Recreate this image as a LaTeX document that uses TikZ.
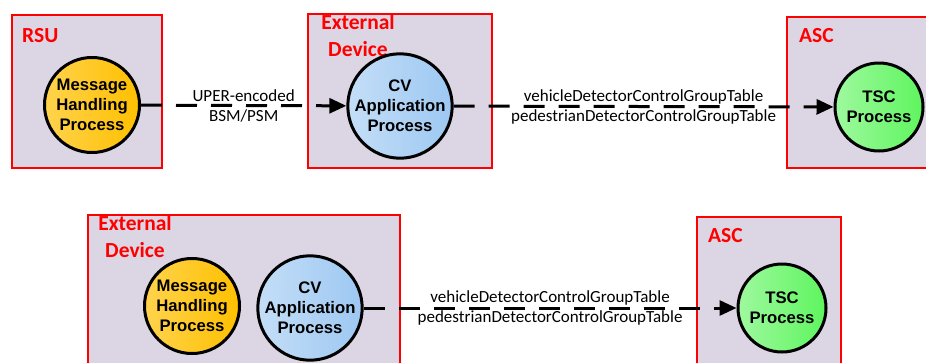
\documentclass[tikz,border=0pt]{standalone}
\usepackage{fontspec}
\setmainfont{Carlito}
\newfontfamily\procfont{Liberation Sans}
\usetikzlibrary{arrows.meta}

\definecolor{unitfill}{HTML}{DCD6E4}
\definecolor{msgyellow}{HTML}{FFC000}
\definecolor{cvblue}{HTML}{9DC8F2}
\definecolor{tscgreen}{HTML}{5EF55E}

\begin{document}
\begin{tikzpicture}[x=1pt, y=-1pt,
  unit/.style={draw=red, line width=1.8pt, fill=unitfill, anchor=north west, inner sep=0pt},
  unitname/.style={text=red, font=\fontsize{21.5}{27}\selectfont\bfseries, align=center, inner sep=0pt},
  proc/.style={circle, draw=black, line width=3pt, align=center, inner sep=0pt,
    font=\procfont\fontsize{16.7}{20}\selectfont\bfseries},
  msgproc/.style={proc, left color=msgyellow!70!white, right color=msgyellow, minimum size=95pt},
  cvproc/.style={proc, left color=cvblue!60!white, right color=cvblue, minimum size=94pt},
  tscproc/.style={proc, left color=tscgreen!60!white, right color=tscgreen, minimum size=88pt},
  flow/.style={line width=3pt, dash pattern=on 21pt off 14pt, -{Triangle[length=17pt,width=15pt]}},
  flowtext/.style={font=\fontsize{17}{20}\selectfont, align=center, inner sep=0pt}]
  \clip (0,0) rectangle (926,362);

  % top row: RSU -> external device -> ASC
  \node[unit, minimum width=150pt, minimum height=153pt] (rsu) at (11,14) {};
  \node[unit, minimum width=184pt, minimum height=154pt] (ext1) at (307,13) {};
  \node[unit, minimum width=150pt, minimum height=151pt] (asc1) at (786,16) {};

  \node[unitname, anchor=base west] (rsulbl) at (22,42) {RSU};
  \node[unitname, anchor=north] (ext1lbl) at (358,14) {External\\Device};
  \node[unitname, anchor=base west] (asc1lbl) at (799,42) {ASC};

  \node[msgproc] (mhp1) at (92,105) {Message\\Handling\\Process};
  \node[cvproc] (cv1) at (400,106) {CV\\Application\\Process};
  \node[tscproc] (tsc1) at (879,107) {TSC\\Process};

  \draw[flow] (mhp1) -- (cv1)
    node[flowtext, midway] (bsm) {UPER-encoded\\BSM/PSM};
  \draw[flow] (cv1) -- (tsc1)
    node[flowtext, midway] (tbl1) {vehicleDetectorControlGroupTable\\pedestrianDetectorControlGroupTable};

  % bottom row: external device with both processes -> ASC
  \node[unit, minimum width=312pt, minimum height=160pt] (ext2) at (87,214) {};
  \node[unit, minimum width=144pt, minimum height=160pt] (asc2) at (696,216) {};

  \node[unitname, anchor=north] (ext2lbl) at (135,215) {External\\Device};
  \node[unitname, anchor=base west] (asc2lbl) at (708,242) {ASC};

  \node[msgproc] (mhp2) at (192,306) {Message\\Handling\\Process};
  \node[cvproc] (cv2) at (310,308) {CV\\Application\\Process};
  \node[tscproc] (tsc2) at (782,308) {TSC\\Process};

  \draw[flow] (cv2) -- (tsc2)
    node[flowtext, midway] (tbl2) {vehicleDetectorControlGroupTable\\pedestrianDetectorControlGroupTable};
\end{tikzpicture}
\end{document}
